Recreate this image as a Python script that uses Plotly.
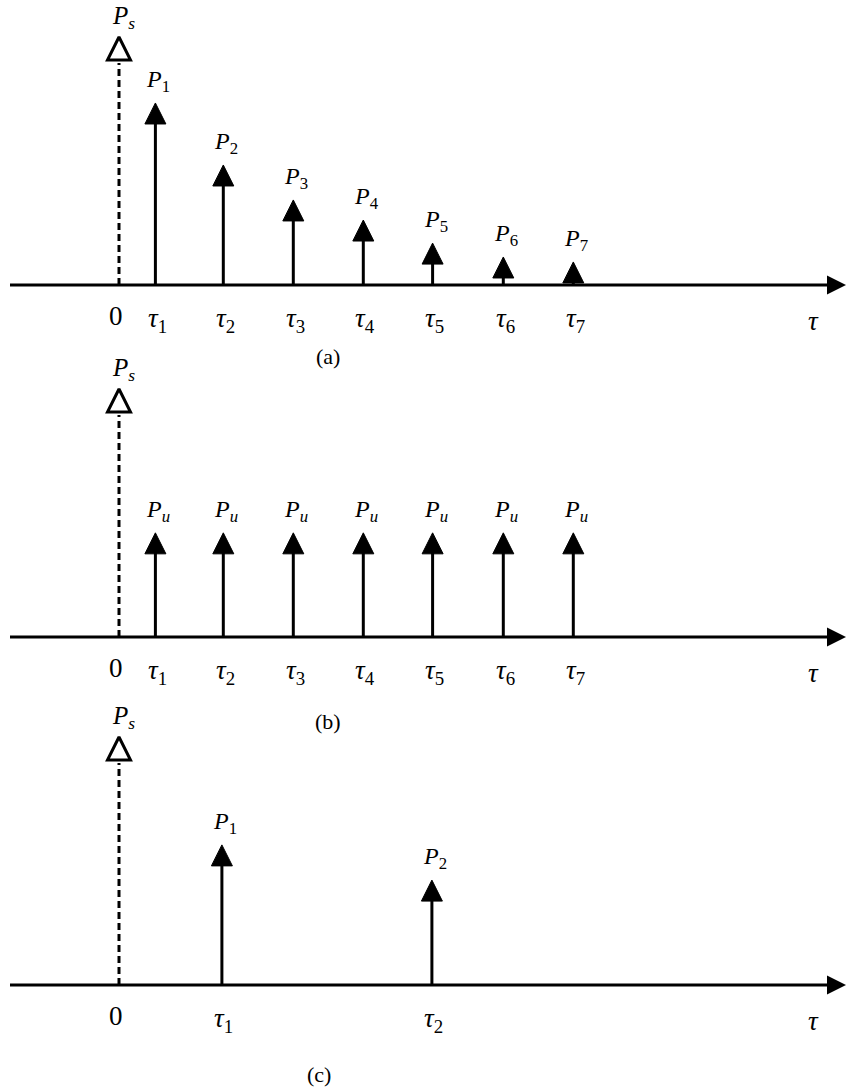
import plotly.graph_objects as go

# ---------------- data ----------------
tau_ab = [0.52, 1.49, 2.49, 3.49, 4.48, 5.49, 6.49]
tau_ab_labels = ["1", "2", "3", "4", "5", "6", "7"]
p_a = [0.734, 0.484, 0.343, 0.262, 0.169, 0.113, 0.093]
p_a_labels = ["1", "2", "3", "4", "5", "6", "7"]
p_b = [0.42, 0.42, 0.42, 0.42, 0.42, 0.42, 0.42]
p_b_label = "u"
tau_c = [1.47, 4.47]
tau_c_labels = ["1", "2"]
p_c = [0.565, 0.423]
p_c_labels = ["1", "2"]
ps_value = 1.0
panel_names = ["(a)", "(b)", "(c)"]

# ---------------- geometry / style ----------------
W, H = 846, 1087
PX0, UNIT = 119, 70.0           # x pixel of origin, px per x unit
S = 248.0                       # px per y unit
axis_px = [285, 637, 985]
bands = [(0, 370), (370, 725), (725, 1087)]
FONT = "Times New Roman, Liberation Serif, DejaVu Serif, serif"
x_min = -PX0 / UNIT
x_max = (W - PX0) / UNIT
x_axis_start = (10 - PX0) / UNIT
x_axis_end = (W - PX0) / UNIT

fig = go.Figure()
layout = dict(
    width=W, height=H, margin=dict(l=0, r=0, t=0, b=0),
    paper_bgcolor="white", plot_bgcolor="white", showlegend=False,
    font=dict(family=FONT, color="black"),
    xaxis=dict(range=[x_min, x_max], domain=[0, 1], visible=False, fixedrange=True),
)
annotations = []

panels = [
    (tau_ab, p_a, ["<i>P</i><sub>%s</sub>" % s for s in p_a_labels], tau_ab_labels),
    (tau_ab, p_b, ["<i>P</i><sub><i>%s</i></sub>" % p_b_label] * len(p_b), tau_ab_labels),
    (tau_c, p_c, ["<i>P</i><sub>%s</sub>" % s for s in p_c_labels], tau_c_labels),
]
panel_label_pos = [(2.99, 71), (2.99, 84), (2.86, 89)]

for i, (taus, vals, plabels, tlabels) in enumerate(panels):
    yname = "y" if i == 0 else "y%d" % (i + 1)
    ykey = "yaxis" if i == 0 else "yaxis%d" % (i + 1)
    t, b = bands[i]
    ap = axis_px[i]
    layout[ykey] = dict(
        domain=[1 - b / H, 1 - t / H],
        range=[(ap - b) / S, (ap - t) / S],
        visible=False, fixedrange=True, anchor="x",
    )
    # horizontal axis line
    fig.add_trace(go.Scatter(x=[x_axis_start, x_axis_end - 0.15], y=[0, 0], mode="lines",
                             line=dict(color="black", width=3), yaxis=yname, xaxis="x",
                             hoverinfo="skip", cliponaxis=False))
    fig.add_trace(go.Scatter(x=[x_axis_end], y=[0], mode="markers",
                             marker=dict(symbol="arrow-right", size=19, color="black"),
                             yaxis=yname, xaxis="x", hoverinfo="skip", cliponaxis=False))
    # dashed Ps line + open arrow
    fig.add_trace(go.Scatter(x=[0, 0], y=[0, ps_value - 26 / S], mode="lines",
                             line=dict(color="black", width=3, dash="7px,4px"),
                             yaxis=yname, xaxis="x", hoverinfo="skip", cliponaxis=False))
    fig.add_trace(go.Scatter(x=[0], y=[ps_value], mode="markers",
                             marker=dict(symbol="arrow-up-open", size=23, color="black",
                                         line=dict(color="black", width=3)),
                             yaxis=yname, xaxis="x", hoverinfo="skip", cliponaxis=False))
    annotations.append(dict(x=0, y=ps_value, xref="x", yref=yname,
                            text="<i>P</i><sub><i>s</i></sub>", showarrow=False,
                            yanchor="bottom", xanchor="center", yshift=2, xshift=4,
                            font=dict(family=FONT, size=25, color="black")))
    # stems
    sx, sy = [], []
    for tx, v in zip(taus, vals):
        sx += [tx, tx, None]
        sy += [0, v - 10 / S, None]
    fig.add_trace(go.Scatter(x=sx, y=sy, mode="lines", line=dict(color="black", width=3),
                             yaxis=yname, xaxis="x", hoverinfo="skip", cliponaxis=False))
    fig.add_trace(go.Scatter(x=taus, y=vals, mode="markers",
                             marker=dict(symbol="arrow-up", size=21, color="black",
                                         line=dict(color="black", width=1)),
                             yaxis=yname, xaxis="x", hoverinfo="skip", cliponaxis=False))
    for tx, v, lab in zip(taus, vals, plabels):
        annotations.append(dict(x=tx, y=v, xref="x", yref=yname, text=lab, showarrow=False,
                                yanchor="bottom", xanchor="center", yshift=5, xshift=3,
                                font=dict(family=FONT, size=24, color="black")))
    # tau tick labels
    for tx, lab in zip(taus, tlabels):
        annotations.append(dict(x=tx, y=0, xref="x", yref=yname,
                                text="<i>τ</i><sub>%s</sub>" % lab, showarrow=False,
                                yanchor="middle", xanchor="center", yshift=-35, xshift=2,
                                font=dict(family=FONT, size=27, color="black")))
    annotations.append(dict(x=0, y=0, xref="x", yref=yname, text="0", showarrow=False,
                            yanchor="middle", xanchor="center", yshift=-31, xshift=-3,
                            font=dict(family=FONT, size=27, color="black")))
    annotations.append(dict(x=(813 - PX0) / UNIT, y=0, xref="x", yref=yname,
                            text="<i>τ</i>", showarrow=False,
                            yanchor="middle", xanchor="center", yshift=-36,
                            font=dict(family=FONT, size=27, color="black")))
    px_, dy = panel_label_pos[i]
    annotations.append(dict(x=px_, y=0, xref="x", yref=yname, text=panel_names[i],
                            showarrow=False, yanchor="middle", xanchor="center", yshift=-dy,
                            font=dict(family=FONT, size=22, color="black")))

layout["annotations"] = annotations
fig.update_layout(**layout)
fig.write_html("out.html", config={"displayModeBar": False},
               post_script="document.body.style.margin='0';")
